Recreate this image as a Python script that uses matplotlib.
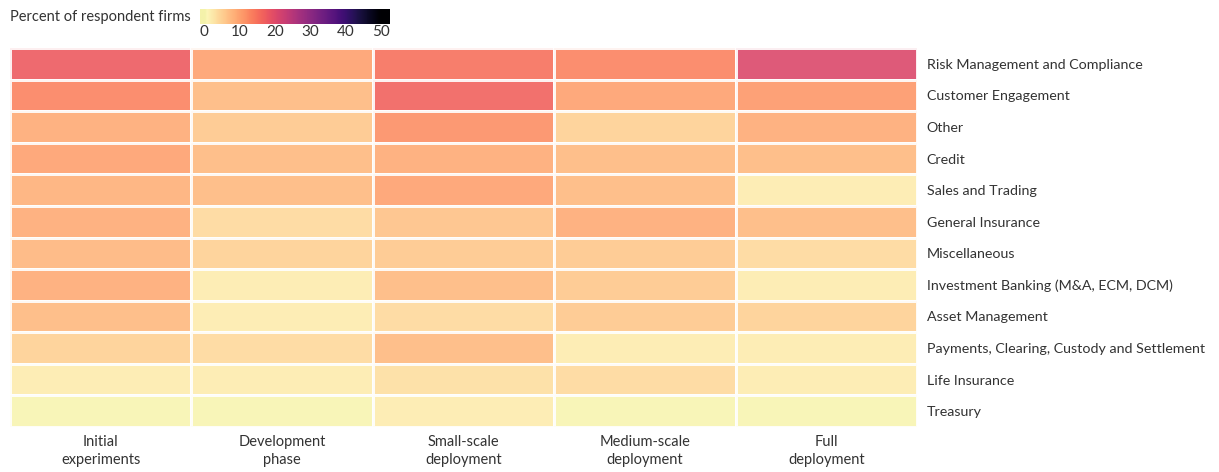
import numpy as np
import matplotlib
matplotlib.use("Agg")
import matplotlib.pyplot as plt
from matplotlib.colors import LinearSegmentedColormap

# stages (columns) and business areas (rows)
stages = ["Initial\nexperiments", "Development\nphase", "Small-scale\ndeployment",
          "Medium-scale\ndeployment", "Full\ndeployment"]
areas = ["Risk Management and Compliance", "Customer Engagement", "Other", "Credit",
         "Sales and Trading", "General Insurance", "Miscellaneous",
         "Investment Banking (M&A, ECM, DCM)", "Asset Management",
         "Payments, Clearing, Custody and Settlement", "Life Insurance", "Treasury"]

# percent of respondent firms
initial = [17.5, 13, 9, 10, 8.5, 9, 8, 9, 7.5, 5, 2, 0.5]
development = [10, 7.5, 6, 7.5, 7.5, 4, 5, 2, 2, 4, 2, 0.5]
small_scale = [15, 16.5, 12, 9, 10, 6.5, 6, 7.5, 4, 7.5, 3.5, 2]
medium_scale = [13, 10, 5, 7.5, 7.5, 9, 6, 6, 6, 2, 4, 0.5]
full = [20.5, 11, 9, 7.5, 2, 7.5, 4, 2, 5, 2, 2, 0.5]

data = np.array([initial, development, small_scale, medium_scale, full]).T

# magma reversed, with the pale end a bit greener like the original
base = plt.get_cmap("magma_r")
cols = [base(t) for t in np.linspace(0, 1, 64)]
cols[0] = (0xf4 / 255, 0xf2 / 255, 0xaa / 255, 1.0)
cmap = LinearSegmentedColormap.from_list("pal", cols)

plt.rcParams["font.family"] = ["Lato", "DejaVu Sans"]
txt = "#333333"
W, H = 1219, 472
fig = plt.figure(figsize=(W / 100, H / 100), dpi=100)

ax = fig.add_axes([10 / W, (H - 427) / H, 907 / W, 379 / H])
ax.pcolormesh(data, cmap=cmap, vmin=0, vmax=50, edgecolors="white",
              linewidth=1.0, alpha=0.9)
ax.set_xlim(0, len(stages))
ax.set_ylim(len(areas), 0)
ax.set_xticks(np.arange(len(stages)) + 0.5)
ax.set_xticklabels(stages, fontsize=10.5, color=txt, linespacing=1.3)
ax.set_yticks(np.arange(len(areas)) + 0.5)
ax.set_yticklabels(areas, fontsize=10.3, color=txt)
ax.yaxis.tick_right()
ax.tick_params(length=0, pad=7)
ax.tick_params(axis="x", pad=6)
for s in ax.spines.values():
    s.set_visible(False)

# colour legend
cax = fig.add_axes([200 / W, (H - 24) / H, 190 / W, 15 / H])
lo, hi = -1.1, 52.4
grad = np.linspace(lo, hi, 256).reshape(1, -1)
cax.imshow(grad, aspect="auto", cmap=cmap, vmin=0, vmax=50, extent=[lo, hi, 0, 1])
cax.set_xlim(lo, hi)
cax.set_yticks([])
cax.set_xticks([0, 10, 20, 30, 40, 50])
cax.tick_params(length=0, pad=1, labelsize=11, labelcolor=txt)
for s in cax.spines.values():
    s.set_visible(False)
fig.text(10 / W, (H - 17) / H, "Percent of respondent firms", fontsize=10.5,
         color=txt, va="center", ha="left")

fig.savefig("out.png", dpi=100)
